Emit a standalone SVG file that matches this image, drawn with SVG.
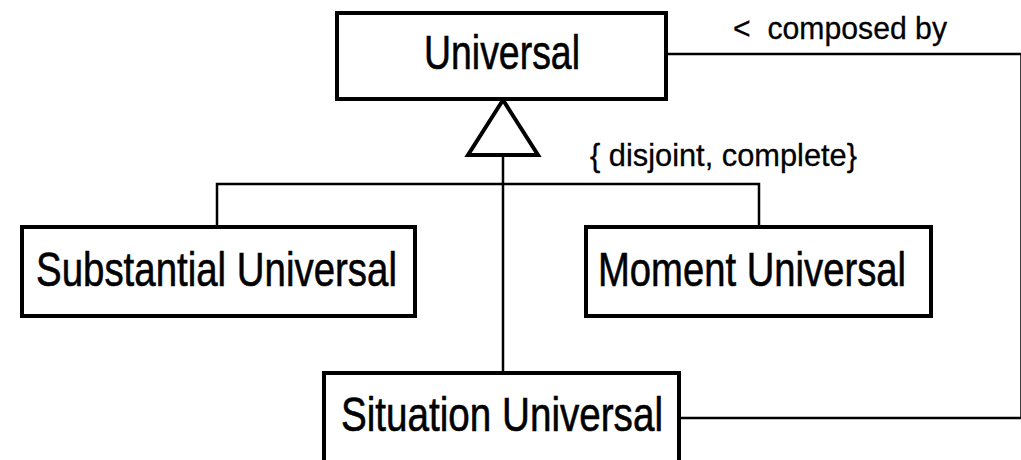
<svg xmlns="http://www.w3.org/2000/svg" width="1021" height="460" viewBox="0 0 1021 460">
  <style>
    .box { fill: #ffffff; stroke: #000000; stroke-width: 4; }
    .link { fill: none; stroke: #000000; stroke-width: 2.5; }
    .name { font-family: "Liberation Sans", Arial, sans-serif; font-size: 49px; fill: #000000; stroke: #000000; stroke-width: 0.6; }
    .note { font-family: "Liberation Sans", Arial, sans-serif; font-size: 32px; fill: #000000; stroke: #000000; stroke-width: 0.3; }
  </style>
  <rect width="1021" height="460" fill="#ffffff"/>

  <!-- connectors -->
  <g id="connectors">
    <!-- generalization set: children joined to the hollow triangle -->
    <polyline class="link" points="217,227 217,184 759,184 759,227"/>
    <line class="link" x1="503" y1="155" x2="503" y2="373"/>
    <polygon points="503,100 468,155 538,155" fill="#ffffff" stroke="#000000" stroke-width="4" stroke-linejoin="miter"/>
    <text class="note" x="590" y="166" textLength="267" lengthAdjust="spacingAndGlyphs">{ disjoint, complete}</text>
    <!-- composition link -->
    <polyline class="link" points="666,54 1021.5,54 1021.5,418 679,418"/>
    <text class="note" x="733" y="39" textLength="214" lengthAdjust="spacingAndGlyphs" xml:space="preserve">&lt;  composed by</text>
  </g>

  <g id="universal">
    <rect class="box" x="337" y="13" width="329" height="86"/>
    <text class="name" x="424" y="69" textLength="156" lengthAdjust="spacingAndGlyphs">Universal</text>
  </g>

  <g id="substantial-universal">
    <rect class="box" x="22" y="227" width="393" height="89"/>
    <text class="name" x="36" y="286" textLength="361" lengthAdjust="spacingAndGlyphs">Substantial Universal</text>
  </g>

  <g id="moment-universal">
    <rect class="box" x="586" y="227" width="345" height="89"/>
    <text class="name" x="598" y="286" textLength="308" lengthAdjust="spacingAndGlyphs">Moment Universal</text>
  </g>

  <g id="situation-universal">
    <rect class="box" x="324" y="373" width="355" height="110"/>
    <text class="name" x="341" y="431" textLength="322" lengthAdjust="spacingAndGlyphs">Situation Universal</text>
  </g>
</svg>
